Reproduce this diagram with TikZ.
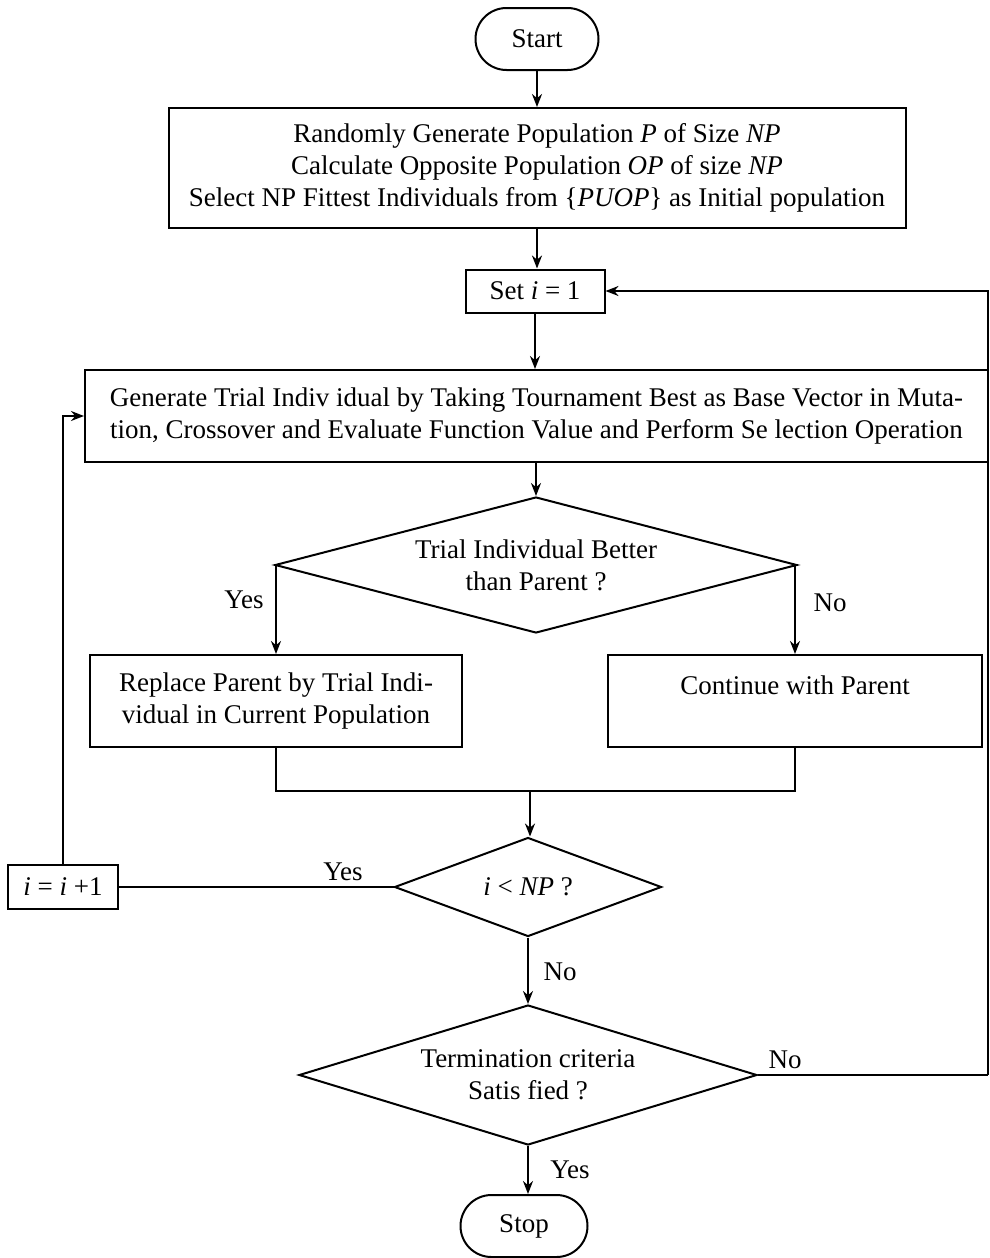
\documentclass[tikz,border=0pt]{standalone}
\usepackage{fontspec}
\setmainfont{Liberation Serif}
\usetikzlibrary{shapes.geometric,shapes.misc,arrows.meta}
\begin{document}
\begin{tikzpicture}[x=1pt,y=-1pt,
  every node/.style={font=\fontsize{27}{32}\selectfont},
  box/.style={draw,line width=2pt,rectangle,inner sep=0pt,align=center},
  term/.style={draw,line width=2pt,rounded rectangle,inner sep=0pt},
  dec/.style={draw,line width=2pt,diamond,inner sep=0pt,align=center},
  arr/.style={line width=2pt,-{Stealth[length=13pt,width=10pt]}},
  ln/.style={line width=2pt},
  lab/.style={inner sep=0pt}]
\useasboundingbox (0,0) rectangle (990,1258);
\node[term,minimum width=123pt,minimum height=62pt] (start) at (537,39) {Start};
\node[box,minimum width=737pt,minimum height=120pt] (init) at (537,168)
  {Randomly Generate Population \textit{P} of Size \textit{NP}\\
   Calculate Opposite Population \textit{OP} of size \textit{NP}\\
   Select NP Fittest Individuals from \{\textit{PUOP}\} as Initial population};
\node[box,minimum width=139pt,minimum height=43pt] (set) at (535,291) {Set \textit{i} = 1};
\node[box,minimum width=903pt,minimum height=92pt] (gen) at (536.5,416)
  {Generate Trial Indiv idual by Taking Tournament Best as Base Vector in Muta-\\
   tion, Crossover and Evaluate Function Value and Perform Se lection Operation};
\node[dec,aspect=3.84,minimum width=522pt,minimum height=136pt] (d1) at (536,565)
  {Trial Individual Better\\than Parent ?};
\node[box,minimum width=372pt,minimum height=92pt] (rep) at (276,701)
  {Replace Parent by Trial Indi-\\vidual in Current Population};
\node[box,minimum width=374pt,minimum height=92pt] (cont) at (795,701)
  {Continue with Parent\\ \mbox{}};
\coordinate (merge) at (530,790);
\node[dec,aspect=2.7,minimum width=267pt,minimum height=99pt] (d2) at (528,887) {\textit{i} < \textit{NP} ?};
\node[box,minimum width=110pt,minimum height=44pt] (inc) at (63,887) {\textit{i} = \textit{i} +1};
\node[dec,aspect=3.27,minimum width=458pt,minimum height=140pt] (d3) at (528,1075)
  {Termination criteria\\Satis fied ?};
\node[term,minimum width=127pt,minimum height=62pt] (stop) at (524,1226) {Stop};
\coordinate (rr) at (988,1075);

\draw[arr] (start) -- (init);
\draw[arr] (init.south) -- (init.south |- set.north);
\draw[arr] (set) -- (set |- gen.north);
\draw[arr] (gen.south -| d1.north) -- (d1.north);
\draw[arr] (d1.west) -| (rep.north);
\draw[arr] (d1.east) -| (cont.north);
\draw[ln] (rep.south) -- ++(0,43) -| (cont.south);
\draw[arr] (merge) -- (merge |- d2.north);
\draw[ln] (d2.west) -- (inc.east);
\draw[arr] (inc.north) |- (gen.west);
\draw[arr] (d2.south) -- (d3.north);
\draw[ln] (d3.east) -- (rr);
\draw[arr] (rr) |- (set.east);
\draw[arr] (d3.south) -- (d3.south |- stop.north);

\node[lab] (y1) at (244,600) {Yes};
\node[lab] (n1) at (830,603) {No};
\node[lab] (y2) at (343,872) {Yes};
\node[lab] (n2) at (560,972) {No};
\node[lab] (n3) at (785,1060) {No};
\node[lab] (y3) at (570,1170) {Yes};
\end{tikzpicture}
\end{document}
